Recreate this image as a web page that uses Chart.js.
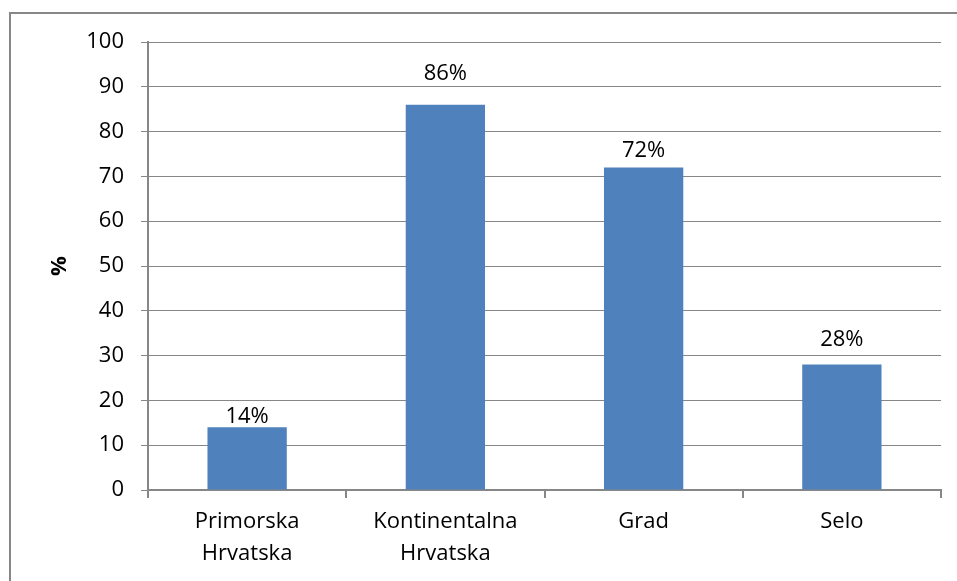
<!DOCTYPE html>
<html>
<head>
<meta charset="utf-8">
<script src="https://cdn.jsdelivr.net/npm/chart.js@4/dist/chart.umd.min.js"></script>
<style>
  body { margin: 0; background: #fff; overflow: hidden; }
  #frame { position: absolute; left: 9px; top: 12px; width: 1000px; height: 700px; border: 2px solid #878787; }
  #wrap { position: absolute; left: 0; top: 0; width: 957px; height: 581px; }
</style>
</head>
<body>
<div id="frame"></div>
<div id="wrap"><canvas id="chart"></canvas></div>
<script>
const categories = [["Primorska", "Hrvatska"], ["Kontinentalna", "Hrvatska"], "Grad", "Selo"];
const values = [14, 86, 72, 28];
const valueLabels = ["14%", "86%", "72%", "28%"];

const fontFamily = "'Open Sans', 'Liberation Sans', sans-serif";

// labels above the bars (gap per bar as in the original layout)
const barLabels = {
    id: 'barLabels',
    afterDatasetsDraw(chart, args, opts) {
        const ctx = chart.ctx;
        const meta = chart.getDatasetMeta(0);
        ctx.save();
        ctx.font = "22px " + fontFamily;
        ctx.fillStyle = '#000';
        ctx.textAlign = 'center';
        ctx.textBaseline = 'alphabetic';
        meta.data.forEach((bar, i) => {
            ctx.fillText(valueLabels[i], bar.x, bar.y - opts.gaps[i]);
        });
        ctx.restore();
    }
};

new Chart(document.getElementById('chart'), {
    type: 'bar',
    data: {
        labels: categories,
        datasets: [{
            data: values,
            backgroundColor: '#4F81BD',
            categoryPercentage: 1,
            barPercentage: 0.4
        }]
    },
    options: {
        responsive: true,
        maintainAspectRatio: false,
        animation: false,
        layout: { padding: { top: 42, right: 16, left: 0, bottom: 0 } },
        plugins: {
            legend: { display: false },
            tooltip: { enabled: false },
            barLabels: { gaps: [4, 25, 10, 19] }
        },
        scales: {
            x: {
                grid: { offset: true, drawOnChartArea: false, color: '#878787', tickLength: 8, lineWidth: 2 },
                border: { color: '#878787', width: 2 },
                ticks: { color: '#000', font: { family: fontFamily, size: 22, lineHeight: 1.45 }, padding: 8, maxRotation: 0 },
                afterFit: s => { s.height = 91; }
            },
            y: {
                min: 0,
                max: 100,
                ticks: { stepSize: 10, color: '#000', font: { family: fontFamily, size: 22 }, padding: 17 },
                grid: { color: '#878787', tickLength: 7, lineWidth: 1 },
                border: { color: '#878787', width: 2 },
                title: { display: true, text: '%', color: '#000', font: { family: fontFamily, size: 22, weight: 'bold' }, padding: { top: 47, bottom: 0 } },
                afterFit: s => { s.width = 148; }
            }
        }
    },
    plugins: [barLabels]
});
</script>
</body>
</html>
